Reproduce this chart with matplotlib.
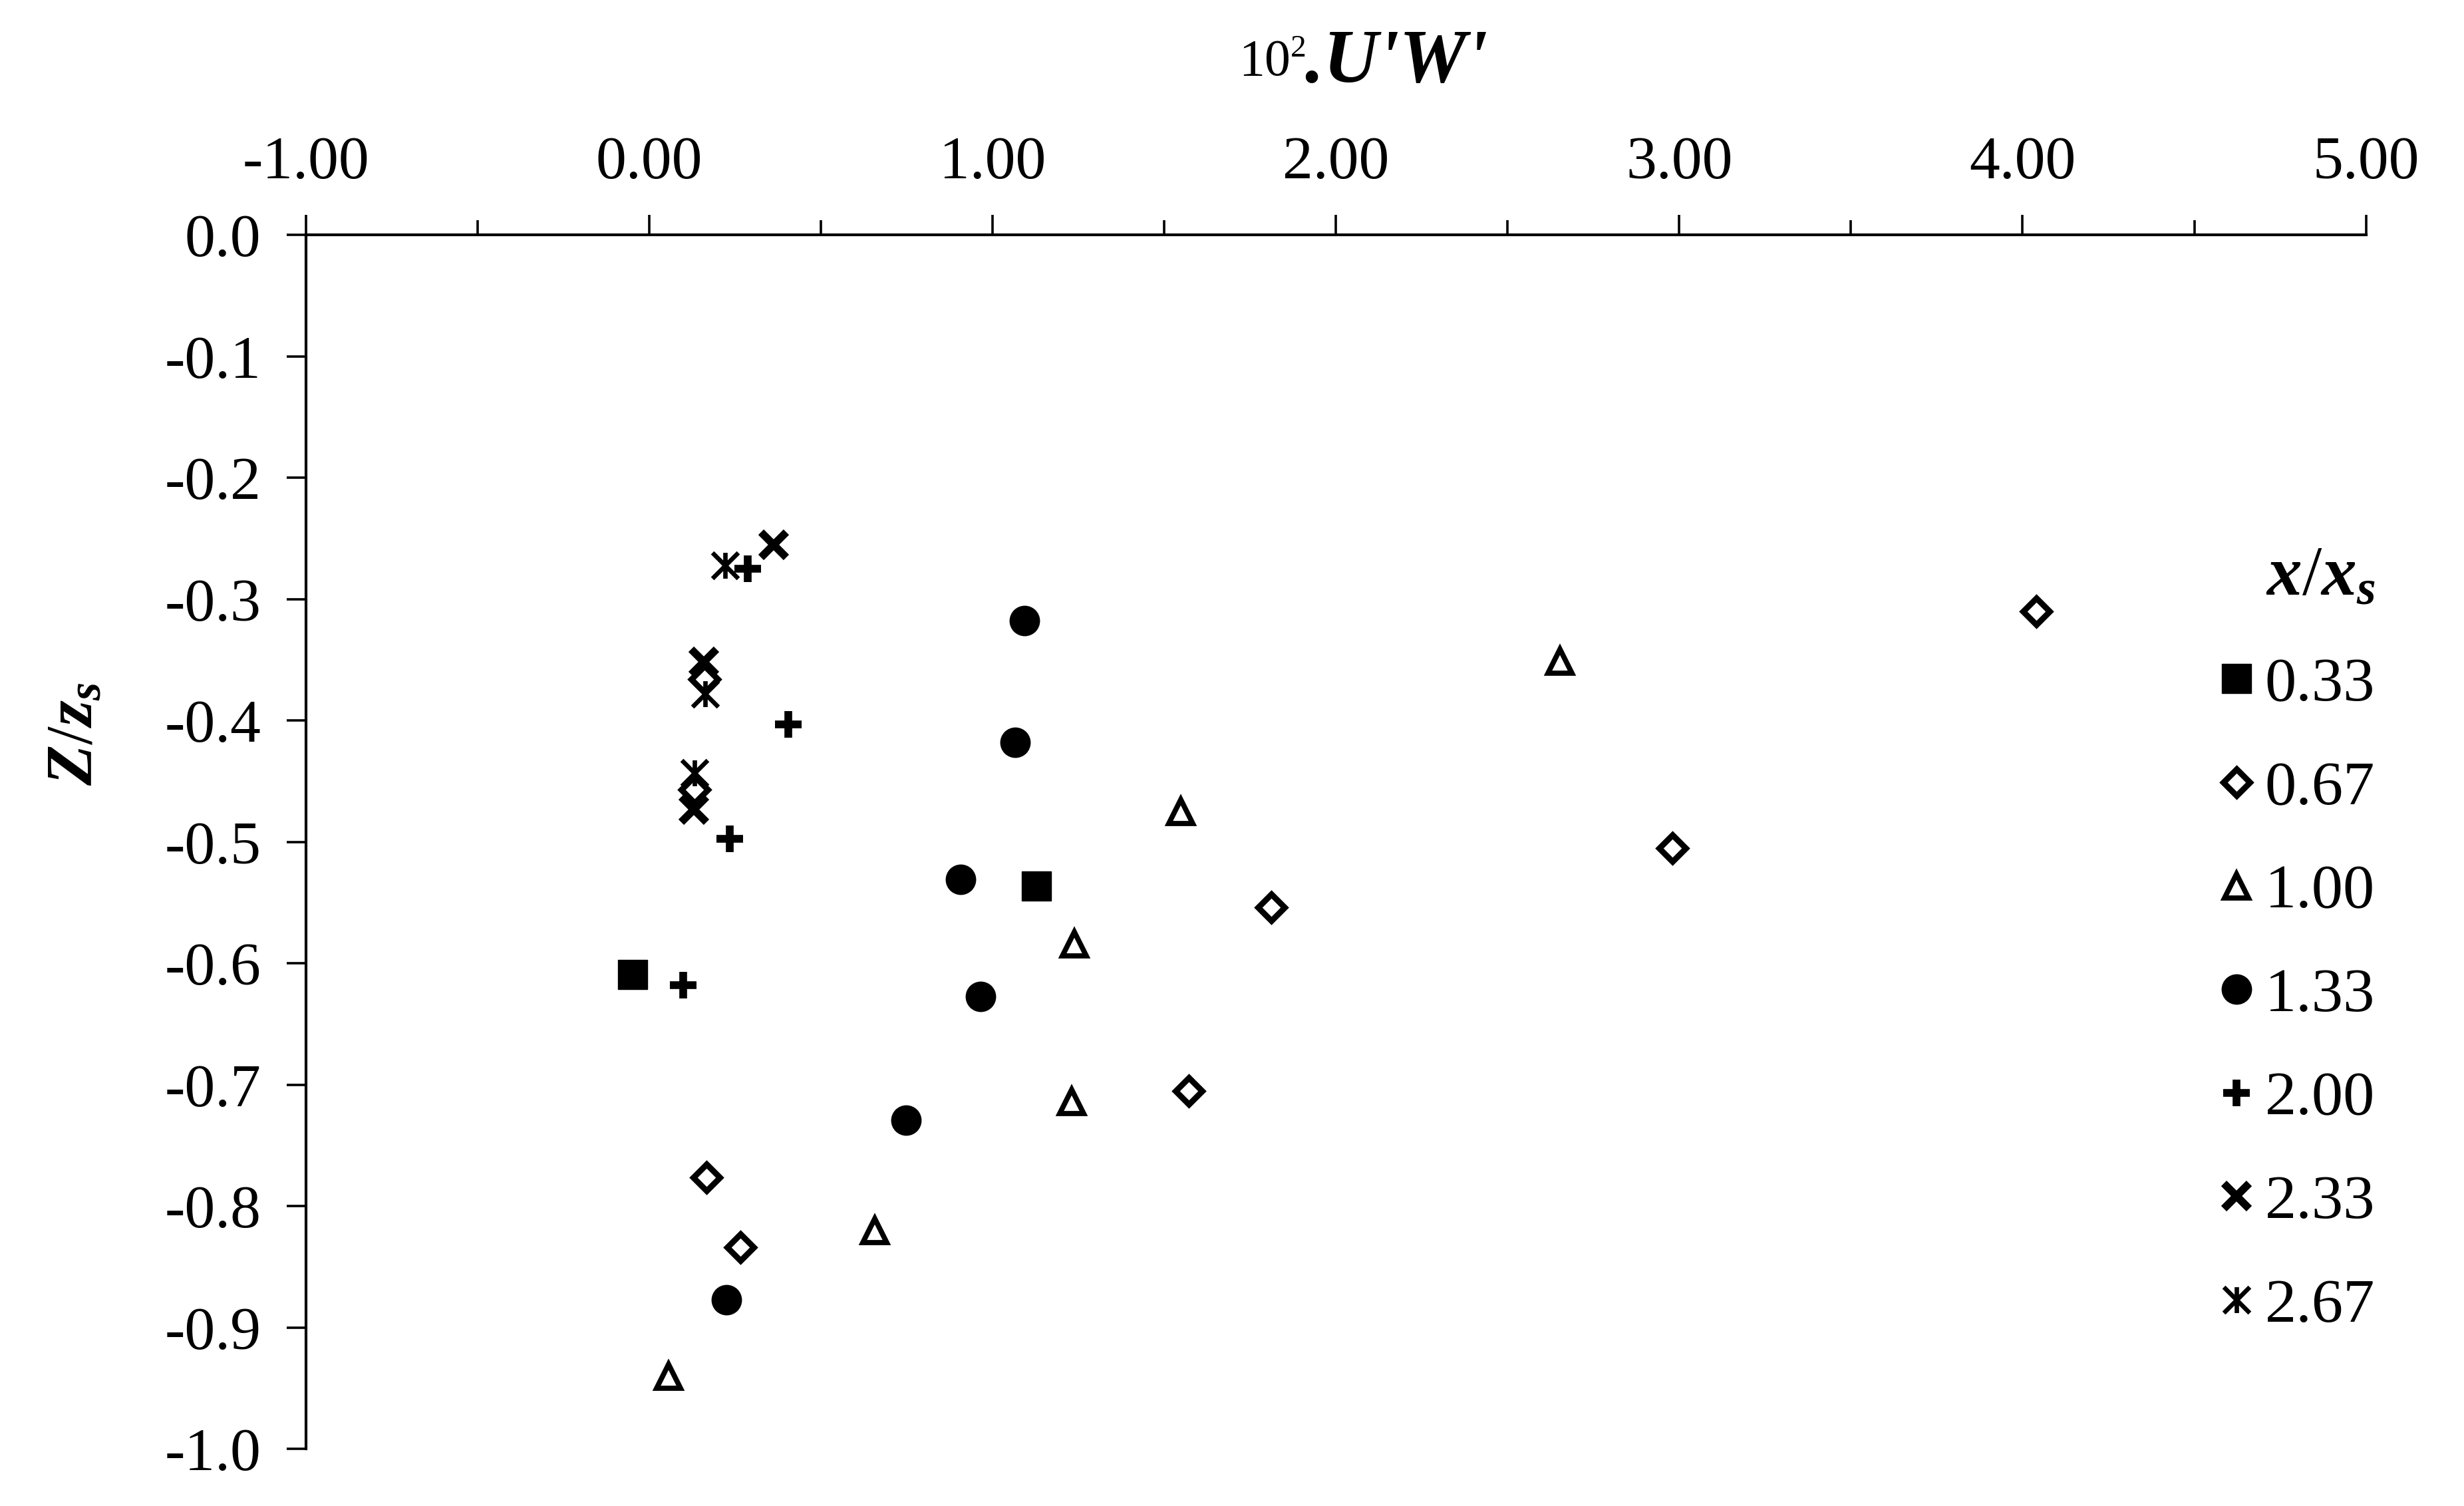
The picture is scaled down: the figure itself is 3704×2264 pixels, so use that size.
import matplotlib
matplotlib.use("Agg")
import matplotlib.pyplot as plt
from matplotlib.path import Path
from matplotlib.ticker import MultipleLocator, FormatStrFormatter

plt.rcParams['font.family'] = ['Liberation Serif', 'DejaVu Serif']
plt.rcParams['axes.unicode_minus'] = False
plt.rcParams['mathtext.fontset'] = 'custom'
plt.rcParams['mathtext.rm'] = 'Liberation Serif'
plt.rcParams['mathtext.it'] = 'Liberation Serif:italic:bold'
plt.rcParams['mathtext.bf'] = 'Liberation Serif:bold'

# ---------------- data ----------------
series_labels = ["0.33", "0.67", "1.00", "1.33", "2.00", "2.33", "2.67"]

x_033 = [-0.048, 1.127]
z_033 = [-0.609, -0.536]

x_067 = [4.040, 0.160, 0.132, 2.980, 1.812, 1.571, 0.166, 0.265]
z_067 = [-0.310, -0.366, -0.457, -0.505, -0.554, -0.705, -0.776, -0.834]

x_100 = [2.653, 1.547, 1.238, 1.230, 0.657, 0.055]
z_100 = [-0.351, -0.475, -0.584, -0.714, -0.820, -0.940]

x_133 = [1.092, 1.065, 0.906, 0.965, 0.747, 0.225]
z_133 = [-0.3175, -0.418, -0.531, -0.627, -0.729, -0.877]

x_200 = [0.286, 0.405, 0.235, 0.099]
z_200 = [-0.275, -0.403, -0.4975, -0.618]

x_233 = [0.362, 0.158, 0.130]
z_233 = [-0.255, -0.3515, -0.473]

x_267 = [0.220, 0.162, 0.131]
z_267 = [-0.272, -0.378, -0.443]

x_ticks = [-1, 0, 1, 2, 3, 4, 5]
z_ticks = [0.0, -0.1, -0.2, -0.3, -0.4, -0.5, -0.6, -0.7, -0.8, -0.9, -1.0]

# ---------------- figure ----------------
fig = plt.figure(figsize=(18.52, 11.32), dpi=200)
ax = fig.add_axes([0.1242, 0.0378, 0.836, 0.8061])

asterisk = Path([(-1, -1), (1, 1), (-1, 1), (1, -1), (0, -1), (0, 1)],
                [Path.MOVETO, Path.LINETO, Path.MOVETO, Path.LINETO, Path.MOVETO, Path.LINETO])

styles = [
    dict(marker='s', ms=15.5, mfc='black', mec='black', mew=0.5),
    dict(marker='D', ms=10, mfc='white', mec='black', mew=3.2),
    dict(marker='^', ms=13, mfc='white', mec='black', mew=2.8),
    dict(marker='o', ms=16, mfc='black', mec='black', mew=0.5),
    dict(marker='+', ms=14.5, mfc='black', mec='black', mew=4.2),
    dict(marker='x', ms=14, mfc='black', mec='black', mew=4.2),
    dict(marker=asterisk, ms=14, mfc='none', mec='black', mew=2.4),
]
xs = [x_033, x_067, x_100, x_133, x_200, x_233, x_267]
zs = [z_033, z_067, z_100, z_133, z_200, z_233, z_267]

handles = []
for i, (xv, zv, st, lab) in enumerate(zip(xs, zs, styles, series_labels)):
    h, = ax.plot(xv, zv, linestyle='none', label=lab, zorder=3 + i, **st)
    handles.append(h)

ax.set_xlim(-1, 5)
ax.set_ylim(-1, 0)

for side in ['right', 'bottom']:
    ax.spines[side].set_visible(False)
for side in ['top', 'left']:
    ax.spines[side].set_linewidth(1.5)

ax.xaxis.tick_top()
ax.set_xticks(x_ticks)
ax.xaxis.set_minor_locator(MultipleLocator(0.5))
ax.xaxis.set_major_formatter(FormatStrFormatter('%.2f'))
ax.set_yticks(z_ticks)
ax.yaxis.set_major_formatter(FormatStrFormatter('%.1f'))
ax.tick_params(axis='x', which='major', direction='out', length=10.8, width=1.3,
               pad=13, labelsize=33, top=True, bottom=False)
ax.tick_params(axis='x', which='minor', direction='out', length=8, width=1.3,
               top=True, bottom=False)
ax.tick_params(axis='y', which='major', direction='out', length=10.4, width=1.3,
               pad=14, labelsize=33, left=True, right=False)

# axis titles
fig.text(1940 / 3704, 1 - 113 / 2264, "10", fontsize=28, ha='right', va='baseline')
fig.text(1940 / 3704, 1 - 85 / 2264, "2", fontsize=17, ha='left', va='baseline')
fig.text(2236 / 3704, 1 - 123 / 2264, ".U'W'", fontsize=41, fontweight='bold',
         fontstyle='italic', ha='right', va='baseline')

fig.text(0.031, 0.5128, r"$Z/z_s$", fontsize=36, rotation=90, ha='center', va='center')

leg = ax.legend(handles=handles, labels=series_labels, title=r"$x/x_s$",
                loc='upper left', bbox_to_anchor=(0.8873, 0.658),
                bbox_transform=fig.transFigure, frameon=False, fontsize=34,
                title_fontsize=38, handlelength=0.6, handletextpad=0.15,
                labelspacing=0.735, borderpad=0, alignment='right')

fig.savefig("out.png", dpi=200)
